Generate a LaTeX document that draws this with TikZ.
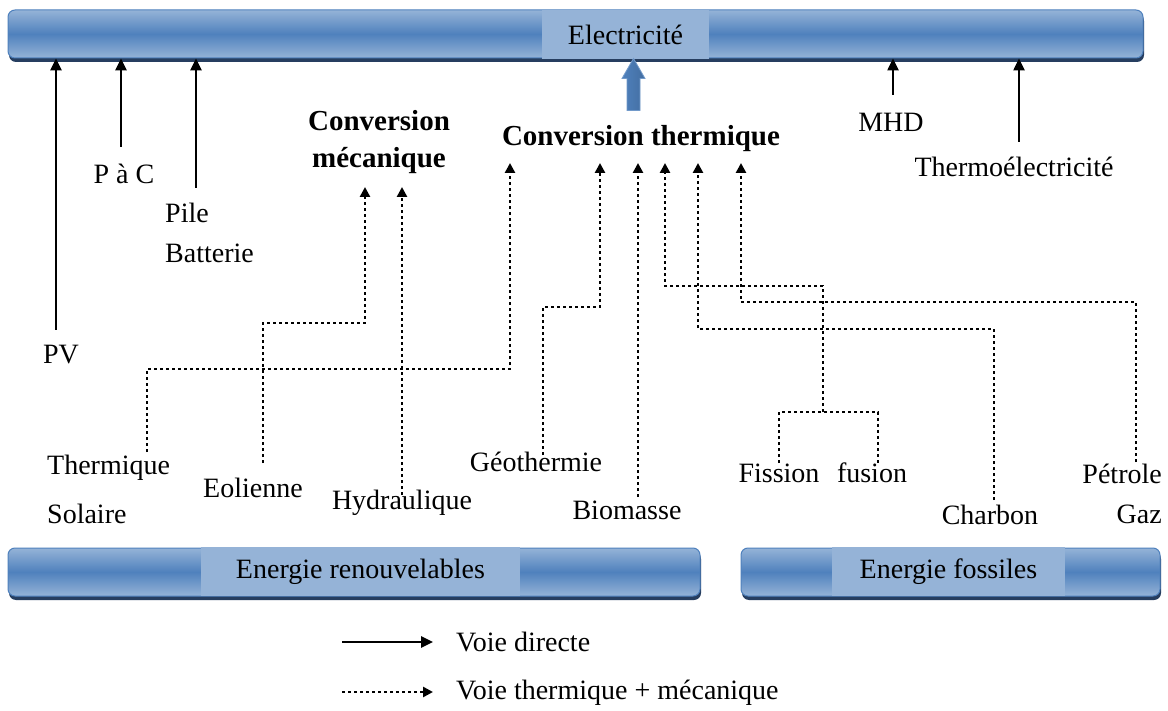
\documentclass[tikz,border=0pt]{standalone}
\usepackage{fontspec}
\setmainfont{Liberation Serif}
\usetikzlibrary{arrows.meta,shadows}
\definecolor{barLight}{RGB}{149,179,215}
\definecolor{barDark}{RGB}{79,129,189}
\definecolor{barShadow}{RGB}{38,62,96}
\begin{document}
\begin{tikzpicture}[x=1pt,y=-1pt,
  txt/.style={font=\fontsize{28}{34}\selectfont, inner sep=1pt},
  head/.style={font=\fontsize{29}{37}\selectfont\bfseries, inner sep=1pt, align=center},
  energybar/.style={rounded corners=7pt, draw=barDark, line width=1pt,
    top color=barLight, bottom color=barLight, middle color=barDark,
    general shadow={fill=barShadow, shadow xshift=1pt, shadow yshift=-4pt},
    inner sep=0pt},
  barlabel/.style={fill=barLight, inner sep=0pt, font=\fontsize{28}{34}\selectfont},
  direct/.style={line width=2.5pt, -{Triangle[length=12pt,width=11pt]}},
  dots/.style={line width=2.8pt, dash pattern=on 2.6pt off 3.4pt},
  thermal/.style={dots, -{Triangle[length=10pt,width=10pt]}},
]
\fill[white] (0,0) rectangle (1168,711);
\useasboundingbox (0,0) rectangle (1168,711);

% ---- bars ----
\node[energybar, minimum width=1135pt, minimum height=48pt] (elec) at (575.5,34) {};
\node[barlabel, minimum width=167pt, minimum height=49pt] (elecl) at (625.5,34.5) {Electricité};

\node[energybar, minimum width=692pt, minimum height=48pt] (renew) at (354,572) {};
\node[barlabel, minimum width=319pt, minimum height=49pt] (renewl) at (360.5,571.5) {Energie renouvelables};

\node[energybar, minimum width=419pt, minimum height=48pt] (fossil) at (950.5,572) {};
\node[barlabel, minimum width=233pt, minimum height=49pt] (fossill) at (948.5,571.5) {Energie fossiles};

% ---- conversion headings ----
\node[head] (cm) at (379,142) {Conversion\\mécanique};
\node[head] (ct) at (641,139) {Conversion thermique};

% block arrow from the thermal conversion up to the electricity bar
\coordinate (ba0) at (633.5,110);
\coordinate (ba1) at (ba0 |- elec.south);
\shade[left color=barDark, middle color=barLight!80!white, right color=barDark!85!black,
       draw=barDark!80!white, line width=0.8pt]
  (ba1) -- ++(11.5,20) -- ++(-5,0) -- ++(0,32) -- ++(-13,0) -- ++(0,-32) -- ++(-5,0) -- cycle;

% ---- direct conversion sources ----
\node[txt] (pv) at (61,355) {PV};
\node[txt] (pac) at (124,174) {P à C};
\node[txt, align=left, anchor=west, font=\fontsize{28}{40}\selectfont] (pile) at (164,233) {Pile\\Batterie};
\node[txt] (mhd) at (891,122) {MHD};
\node[txt] (thel) at (1014,167) {Thermoélectricité};

\coordinate (pv0) at (56,330);
\coordinate (pac0) at (121,147);
\coordinate (pile0) at (196,188);
\coordinate (mhd0) at (893,95);
\coordinate (thel0) at (1019,142);
\foreach \s in {pv0,pac0,pile0,mhd0,thel0}
  \draw[direct] (\s) -- (\s |- elec.south);

% ---- thermal / mechanical sources ----
\node[txt, align=left, anchor=west, font=\fontsize{28}{49}\selectfont] (ts) at (46,489) {Thermique\\Solaire};
\node[txt] (eol) at (253,488) {Eolienne};
\node[txt] (hyd) at (402,503) {Hydraulique};
\node[txt] (geo) at (536,462) {Géothermie};
\node[txt] (bio) at (627,510) {Biomasse};
\node[txt] (fis) at (779,473) {Fission};
\node[txt] (fus) at (872,473) {fusion};
\node[txt] (cha) at (990,515) {Charbon};
\node[txt, align=right, anchor=east, font=\fontsize{28}{40}\selectfont] (pet) at (1163,494) {Pétrole\\Gaz};

% arrow tips under the headings
\coordinate (cm1) at (365,187);
\coordinate (cm2) at (402,187);
\coordinate (ct1) at (510,163);
\coordinate (ct2) at (600,163);
\coordinate (ct3) at (638,163);
\coordinate (ct4) at (665,163);
\coordinate (ct5) at (698,163);
\coordinate (ct6) at (741,163);

% line starts above the source labels
\coordinate (ts0) at (147,452);
\coordinate (eol0) at (263,463);
\coordinate (hyd0) at (402,495);
\coordinate (geo0) at (543,455);
\coordinate (bio0) at (638,497);
\coordinate (fis0) at (779,463);
\coordinate (fus0) at (878,463);
\coordinate (nuc) at (823,412);
\coordinate (cha0) at (994,500);
\coordinate (pet0) at (1136,462);

\draw[thermal] (ts0) |- (ct1 |- 0,369) -- (ct1);
\draw[thermal] (eol0) |- (cm1 |- 0,323) -- (cm1);
\draw[thermal] (hyd0) -- (cm2);
\draw[thermal] (geo0) |- (ct2 |- 0,307) -- (ct2);
\draw[thermal] (bio0) -- (ct3);
\draw[dots] (fis0) |- (nuc) -| (fus0);
\draw[thermal] (nuc) |- (ct4 |- 0,286) -- (ct4);
\draw[thermal] (cha0) |- (ct5 |- 0,329) -- (ct5);
\draw[thermal] (pet0) |- (ct6 |- 0,302) -- (ct6);

% ---- legend ----
\node[txt, anchor=west] (lg1) at (455,642) {Voie directe};
\node[txt, anchor=west] (lg2) at (455,693) {Voie thermique + mécanique};
\coordinate (lg1s) at (342,642);
\coordinate (lg2s) at (342,692);
\draw[direct] (lg1s) -- ([xshift=-22pt]lg1.west);
\draw[thermal] (lg2s) -- ([xshift=-22pt]lg2.west |- lg2s);
\end{tikzpicture}
\end{document}
